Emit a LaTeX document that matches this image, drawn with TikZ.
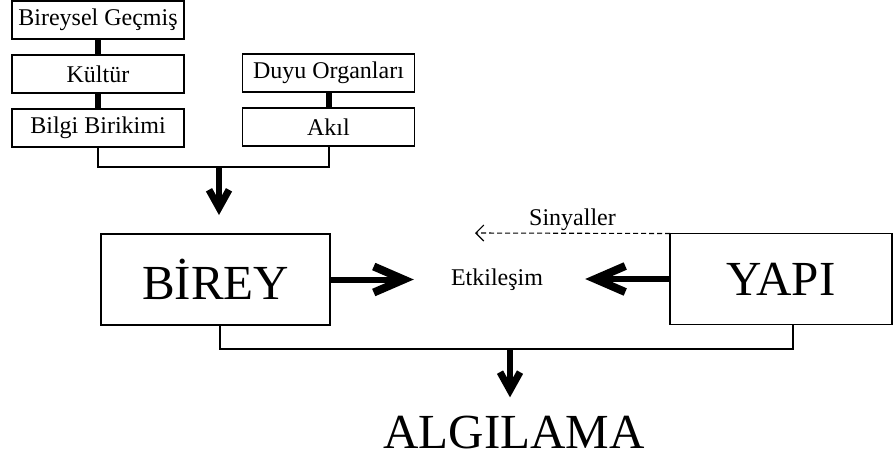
\documentclass[tikz,border=0pt]{standalone}
\usepackage{fontspec}
\setmainfont{Liberation Serif}
\usetikzlibrary{arrows.meta, positioning, calc}

\begin{document}
\begin{tikzpicture}[
    x=1pt, y=-1pt,
    smallbox/.style={
        rectangle, minimum width=172pt, minimum height=38pt,
        draw=black, line width=1.5pt, inner sep=0pt, outer sep=0pt,
        font=\fontsize{24}{26}\selectfont, align=center
    },
    bigbox/.style={
        rectangle, minimum height=91pt, draw=black, line width=1.5pt,
        inner sep=0pt, outer sep=0pt, font=\fontsize{49}{53}\selectfont
    },
    lbl/.style={font=\fontsize{24}{26}\selectfont, inner sep=0pt},
    stub/.style={line width=6pt},
    link/.style={line width=2pt},
    bigarr/.style={line width=6pt,
        -{Straight Barb[length=30pt, width=26pt, line width=8pt]}},
    downarr/.style={line width=6pt,
        -{Straight Barb[length=18pt, width=20pt, line width=7pt]}},
    sigarr/.style={line width=1.1pt, dash pattern=on 5pt off 3pt,
        -{Straight Barb[length=8pt, width=16pt]}},
    node distance=16pt
]
\useasboundingbox (0,0) rectangle (893,459);

% ===================================================================
% Inputs of the individual (top)
% ===================================================================
\node[smallbox] (gecmis) at (98,20) {Bireysel Geçmiş};
\node[smallbox, below=of gecmis] (kultur) {Kültür};
\node[smallbox, below=of kultur] (bilgi) {Bilgi Birikimi};

\node[smallbox] (duyu) at (328.5,73) {Duyu Organları};
\node[smallbox, below=of duyu] (akil) {Akıl};

\draw[stub] (gecmis) -- (kultur);
\draw[stub] (kultur) -- (bilgi);
\draw[stub] (duyu) -- (akil);

% Merge into the individual
\coordinate (mrg) at (219,167);
\draw[link] (bilgi.south) |- (mrg) -| (akil.south);

% ===================================================================
% Middle row
% ===================================================================
\node[bigbox, minimum width=229pt] (birey) at (215.5,279.5) {BİREY};
\node[bigbox, minimum width=222pt] (yapi) at (781,279) {YAPI};
\node[lbl] (etk) at (497,280) {Etkileşim};

\draw[downarr, shorten >=19pt] (mrg) -- (mrg |- birey.north);
\draw[bigarr, shorten >=37pt] (birey.east) -- (birey.east -| etk.west);
\draw[bigarr, shorten >=42pt] (yapi.west) -- (yapi.west -| etk.east);

% Signals
\coordinate (sigtip) at (475,233);
\draw[sigarr] (yapi.north west) -- node[lbl, above=2pt] (sig) {Sinyaller} (sigtip);

% ===================================================================
% Result (bottom)
% ===================================================================
\node[font=\fontsize{49}{53}\selectfont, inner sep=0pt] (algi) at (514,433) {ALGILAMA};

\coordinate (mrgb) at (510,349);
\draw[link] ([xshift=4pt]birey.south) |- (mrgb) -| ([xshift=12pt]yapi.south);
\draw[downarr, shorten >=19pt] (mrgb) -- (mrgb |- algi.north);

\end{tikzpicture}
\end{document}
